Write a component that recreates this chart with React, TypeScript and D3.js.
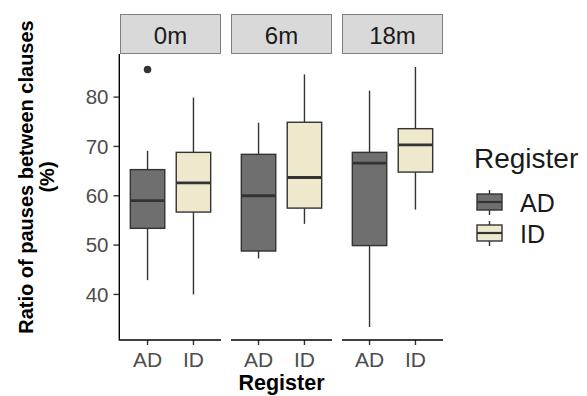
import * as d3 from "d3";

// facets and groups
const periods = ["0m", "6m", "18m"];
const registers = ["AD", "ID"];

// boxplot statistics per period (rows) and register (cols)
const lowerWhisker = [[42.9, 40.0], [47.3, 54.3], [33.4, 57.2]];
const q1 = [[53.4, 56.7], [48.8, 57.5], [49.9, 64.8]];
const median = [[59.0, 62.6], [60.0, 63.7], [66.6, 70.3]];
const q3 = [[65.3, 68.8], [68.4, 74.9], [68.8, 73.6]];
const upperWhisker = [[69.1, 79.9], [74.8, 84.6], [81.3, 86.1]];
const outliers = [[[85.6], []], [[], []], [[], []]];

const yTicks = [40, 50, 60, 70, 80];
const fills: Record<string, string> = { AD: "#6f6f6f", ID: "#eee8cd" };

const font = "'Liberation Sans', Arial, sans-serif";

export default function App() {
  const width = 587;
  const height = 396;
  const panelTop = 54;
  const panelBottom = 340;

  const allVals = [
    ...lowerWhisker.flat(),
    ...upperWhisker.flat(),
    ...outliers.flat(2),
  ];
  const lo = d3.min(allVals) as number;
  const hi = d3.max(allVals) as number;
  const pad = (hi - lo) * 0.05;

  const y = d3
    .scaleLinear()
    .domain([lo - pad, hi + pad])
    .range([panelBottom, panelTop]);

  const panels = d3
    .scaleBand()
    .domain(periods)
    .range([120, 443])
    .paddingInner(0.09)
    .paddingOuter(0);
  const bw = panels.bandwidth();

  // discrete x inside each panel (ggplot expansion of 0.6)
  const x = d3.scaleLinear().domain([0.4, 2.6]).range([0, bw]);
  const boxW = x(0.75) - x(0);

  const boxStroke = "#333333";
  const lw = 1.4;

  return (
    <svg
      width={width}
      height={height}
      style={{ position: "absolute", left: 0, top: 0, background: "#fff" }}
      fontFamily={font}
    >
      {periods.map((p, pi) => {
        const x0 = panels(p) as number;
        return (
          <g key={p}>
            {/* strip */}
            <rect
              x={x0 + 0.5}
              y={14.5}
              width={bw - 1}
              height={panelTop - 15}
              fill="#d9d9d9"
              stroke="#7f7f7f"
              strokeWidth={1}
            />
            <text
              x={x0 + bw / 2}
              y={44}
              textAnchor="middle"
              fontSize={24}
              fill="#1a1a1a"
            >
              {p}
            </text>

            {registers.map((r, ri) => {
              const cx = x0 + x(ri + 1);
              return (
                <g key={r}>
                  <line
                    x1={cx}
                    x2={cx}
                    y1={y(upperWhisker[pi][ri])}
                    y2={y(q3[pi][ri])}
                    stroke={boxStroke}
                    strokeWidth={lw}
                  />
                  <line
                    x1={cx}
                    x2={cx}
                    y1={y(q1[pi][ri])}
                    y2={y(lowerWhisker[pi][ri])}
                    stroke={boxStroke}
                    strokeWidth={lw}
                  />
                  <rect
                    x={cx - boxW / 2}
                    y={y(q3[pi][ri])}
                    width={boxW}
                    height={y(q1[pi][ri]) - y(q3[pi][ri])}
                    fill={fills[r]}
                    stroke={boxStroke}
                    strokeWidth={lw}
                  />
                  <line
                    x1={cx - boxW / 2}
                    x2={cx + boxW / 2}
                    y1={y(median[pi][ri])}
                    y2={y(median[pi][ri])}
                    stroke={boxStroke}
                    strokeWidth={2.8}
                  />
                  {outliers[pi][ri].map((v, oi) => (
                    <circle key={oi} cx={cx} cy={y(v)} r={3.8} fill="#333333" />
                  ))}
                  {/* x tick + label */}
                  <line
                    x1={cx}
                    x2={cx}
                    y1={panelBottom}
                    y2={panelBottom + 5}
                    stroke="#333333"
                    strokeWidth={lw}
                  />
                  <text
                    x={cx}
                    y={366.5}
                    textAnchor="middle"
                    fontSize={21}
                    fill="#4d4d4d"
                  >
                    {r}
                  </text>
                </g>
              );
            })}

            {/* bottom axis line */}
            <line
              x1={x0}
              x2={x0 + bw}
              y1={panelBottom}
              y2={panelBottom}
              stroke="#000"
              strokeWidth={1.4}
            />
          </g>
        );
      })}

      {/* left axis */}
      <line
        x1={119.3}
        x2={119.3}
        y1={panelTop}
        y2={panelBottom + 0.7}
        stroke="#000"
        strokeWidth={1.4}
      />
      {yTicks.map((t) => (
        <g key={t}>
          <line
            x1={113.5}
            x2={119}
            y1={y(t)}
            y2={y(t)}
            stroke="#333333"
            strokeWidth={lw}
          />
          <text
            x={108.5}
            y={y(t)}
            dy="0.35em"
            textAnchor="end"
            fontSize={20.5}
            fill="#4d4d4d"
          >
            {t}
          </text>
        </g>
      ))}

      {/* y title */}
      <g transform={`translate(0, ${(14 + panelBottom) / 2}) rotate(-90)`}>
        <text x={0} y={33} textAnchor="middle" fontSize={20} fontWeight="bold">
          Ratio of pauses between clauses
        </text>
        <text x={0} y={54} textAnchor="middle" fontSize={20} fontWeight="bold">
          (%)
        </text>
      </g>

      {/* x title */}
      <text
        x={(120 + 443) / 2}
        y={390}
        textAnchor="middle"
        fontSize={21.5}
        fontWeight="bold"
      >
        Register
      </text>

      {/* legend */}
      <text x={474} y={168} fontSize={28} fill="#1a1a1a">
        Register
      </text>
      {registers.map((r, i) => {
        const ky = 190 + i * 31;
        return (
          <g key={r}>
            <line
              x1={489.5}
              x2={489.5}
              y1={ky}
              y2={ky + 25}
              stroke={boxStroke}
              strokeWidth={lw}
            />
            <rect
              x={477}
              y={ky + 4}
              width={25}
              height={16}
              fill={fills[r]}
              stroke={boxStroke}
              strokeWidth={lw}
            />
            <line
              x1={477}
              x2={502}
              y1={ky + 12}
              y2={ky + 12}
              stroke={boxStroke}
              strokeWidth={2.2}
            />
            <text x={520} y={ky + 22} fontSize={25} fill="#1a1a1a">
              {r}
            </text>
          </g>
        );
      })}
    </svg>
  );
}
